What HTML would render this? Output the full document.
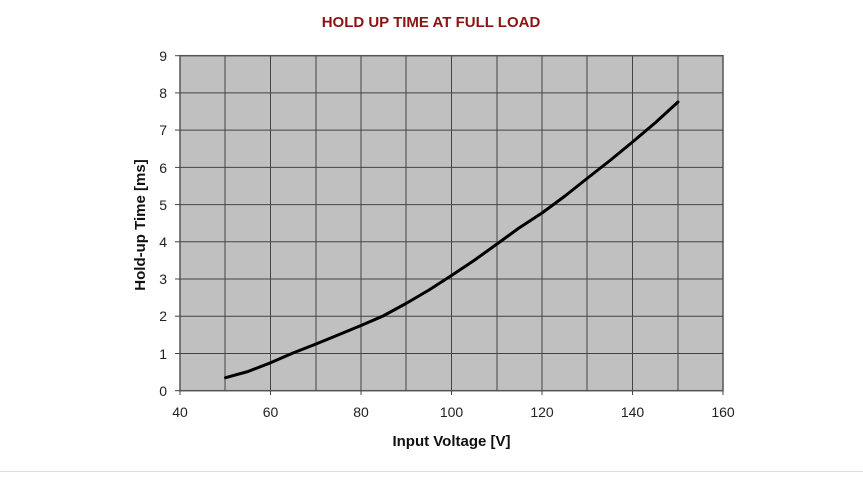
<!DOCTYPE html>
<html><head><style>
body{margin:0;background:#fff;width:863px;height:473px;overflow:hidden;font-family:"Liberation Sans",sans-serif}
</style></head><body>
<svg width="863" height="473" xmlns="http://www.w3.org/2000/svg" font-family="Liberation Sans, sans-serif">
<text x="431" y="27" text-anchor="middle" font-size="15" font-weight="bold" fill="#8a1414">HOLD UP TIME AT FULL LOAD</text>
<rect x="180" y="55.7" width="543" height="335" fill="#c0c0c0" stroke="#555" stroke-width="1.5"/>
<g stroke="#444" stroke-width="1">
<line x1="270.5" y1="55.7" x2="270.5" y2="390.7"/><line x1="361" y1="55.7" x2="361" y2="390.7"/>
<line x1="451.5" y1="55.7" x2="451.5" y2="390.7"/><line x1="542" y1="55.7" x2="542" y2="390.7"/>
<line x1="632.5" y1="55.7" x2="632.5" y2="390.7"/>
<line x1="225" y1="55.7" x2="225" y2="390.7"/><line x1="316" y1="55.7" x2="316" y2="390.7"/>
<line x1="406" y1="55.7" x2="406" y2="390.7"/><line x1="497" y1="55.7" x2="497" y2="390.7"/>
<line x1="587" y1="55.7" x2="587" y2="390.7"/><line x1="678" y1="55.7" x2="678" y2="390.7"/>
<line x1="180" y1="92.9" x2="723" y2="92.9"/><line x1="180" y1="130.1" x2="723" y2="130.1"/>
<line x1="180" y1="167.4" x2="723" y2="167.4"/><line x1="180" y1="204.6" x2="723" y2="204.6"/>
<line x1="180" y1="241.8" x2="723" y2="241.8"/><line x1="180" y1="279" x2="723" y2="279"/>
<line x1="180" y1="316.2" x2="723" y2="316.2"/><line x1="180" y1="353.5" x2="723" y2="353.5"/>
</g>
<g stroke="#444" stroke-width="1">
<line x1="175" y1="55.7" x2="180" y2="55.7"/><line x1="175" y1="92.9" x2="180" y2="92.9"/><line x1="175" y1="130.1" x2="180" y2="130.1"/><line x1="175" y1="167.4" x2="180" y2="167.4"/><line x1="175" y1="204.6" x2="180" y2="204.6"/><line x1="175" y1="241.8" x2="180" y2="241.8"/><line x1="175" y1="279" x2="180" y2="279"/><line x1="175" y1="316.2" x2="180" y2="316.2"/><line x1="175" y1="353.5" x2="180" y2="353.5"/><line x1="175" y1="390.7" x2="180" y2="390.7"/>
<line x1="180" y1="390.7" x2="180" y2="395"/><line x1="270.5" y1="390.7" x2="270.5" y2="395"/><line x1="361" y1="390.7" x2="361" y2="395"/><line x1="451.5" y1="390.7" x2="451.5" y2="395"/><line x1="542" y1="390.7" x2="542" y2="395"/><line x1="632.5" y1="390.7" x2="632.5" y2="395"/><line x1="723" y1="390.7" x2="723" y2="395"/>
</g>
<g font-size="14" fill="#222" text-anchor="end">
<text x="167" y="61">9</text><text x="167" y="98">8</text><text x="167" y="135">7</text><text x="167" y="173">6</text><text x="167" y="210">5</text><text x="167" y="247">4</text><text x="167" y="284">3</text><text x="167" y="321">2</text><text x="167" y="359">1</text><text x="167" y="396">0</text>
</g>
<g font-size="14" fill="#222" text-anchor="middle">
<text x="180" y="417">40</text><text x="270.5" y="417">60</text><text x="361" y="417">80</text><text x="451.5" y="417">100</text><text x="542" y="417">120</text><text x="632.5" y="417">140</text><text x="723" y="417">160</text>
</g>
<text x="451.5" y="446" text-anchor="middle" font-size="15" font-weight="bold" fill="#111">Input Voltage [V]</text>
<text transform="translate(145,225) rotate(-90)" text-anchor="middle" font-size="15" font-weight="bold" fill="#111">Hold-up Time [ms]</text>
<polyline fill="none" stroke="#000" stroke-width="3" stroke-linejoin="round" stroke-linecap="round"
points="225.5,377.7 248,371.5 270.5,362.8 293,353 316,344 338,335 361,325.5 383,316 406,303.5 429,290 451.5,275.5 474,260.5 497,244 519,228 542,213 565,196 587,178.5 610,160.5 632.5,142 655,123 678,102"/>
<line x1="0" y1="471.5" x2="863" y2="471.5" stroke="#ddd" stroke-width="1"/>
</svg>
</body></html>
